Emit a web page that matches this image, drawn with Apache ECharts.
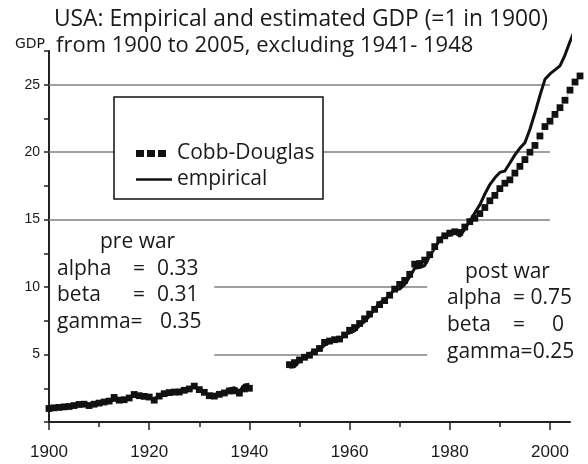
<!DOCTYPE html>
<html>
<head>
<meta charset="utf-8">
<script src="https://cdn.jsdelivr.net/npm/echarts@6/dist/echarts.min.js"></script>
<style>
  html, body { margin: 0; padding: 0; background: #ffffff; }
  #chart { width: 588px; height: 464px; }
</style>
</head>
<body>
<div id="chart"></div>
<script>
// US GDP index (1900 = 1), annual values; the war years 1941-1947 are left out.
const preWarStartYear = 1900;
const postWarStartYear = 1948;

const empiricalPreWar = [
  1.00, 1.05, 1.07, 1.10, 1.12, 1.20, 1.35, 1.30, 1.15, 1.30,
  1.38, 1.42, 1.50, 1.62, 1.60, 1.62, 1.80, 1.92, 1.92, 1.90,
  1.85, 1.72, 1.95, 2.15, 2.20, 2.25, 2.35, 2.40, 2.48, 2.62,
  2.40, 2.20, 1.98, 1.95, 2.05, 2.20, 2.45, 2.55, 2.28, 2.75,
  2.80
];
const empiricalPostWar = [
  4.05, 4.10, 4.50, 4.85, 5.05, 5.30, 5.35, 5.70, 5.90, 6.05,
  6.10, 6.45, 6.60, 6.75, 7.15, 7.45, 7.85, 8.35, 8.85, 9.05,
  9.45, 9.80, 9.85, 10.20, 10.75, 11.40, 11.45, 11.60, 12.30, 12.90,
  13.50, 13.90, 13.85, 14.10, 13.75, 14.30, 14.90, 15.50, 16.10, 16.90,
  17.60, 18.10, 18.50, 18.60, 19.20, 19.80, 20.30, 20.70, 21.70, 22.90,
  24.20, 25.40, 25.80, 26.10, 26.40, 27.20, 28.20, 29.10
];
const cobbDouglasPreWar = [
  1.00, 1.05, 1.08, 1.12, 1.15, 1.22, 1.30, 1.32, 1.22, 1.32,
  1.40, 1.48, 1.55, 1.82, 1.62, 1.65, 1.78, 2.04, 1.95, 1.90,
  1.85, 1.62, 1.92, 2.10, 2.18, 2.22, 2.22, 2.35, 2.45, 2.66,
  2.40, 2.20, 1.95, 1.92, 2.05, 2.15, 2.30, 2.31, 2.14, 2.45,
  2.50
];
const cobbDouglasPostWar = [
  4.25, 4.40, 4.60, 4.80, 4.95, 5.20, 5.45, 5.90, 6.00, 6.10,
  6.15, 6.45, 6.80, 7.00, 7.30, 7.65, 8.00, 8.35, 8.70, 9.00,
  9.40, 9.85, 10.20, 10.50, 10.95, 11.70, 11.75, 12.00, 12.40, 13.00,
  13.50, 13.80, 14.00, 14.10, 14.05, 14.45, 14.85, 15.10, 15.45, 15.90,
  16.40, 16.80, 17.30, 17.70, 17.95, 18.45, 18.95, 19.45, 20.00, 20.50,
  21.20, 21.90, 22.30, 22.80, 23.30, 23.85, 24.60, 25.20, 25.65
];

// Axis ticks and labels
const xLabelYears = [1900, 1920, 1940, 1960, 1980, 2000];
const xMinorYears = [1910, 1930, 1950, 1970, 1990];
const yLabelValues = [5, 10, 15, 20, 25];
const yTickValues = [0, 2.5, 5, 7.5, 10, 12.5, 15, 17.5, 20, 22.5, 25, 27.5];

// Horizontal reference lines: [value, fromYear, toYear]
const referenceLines = [
  [25, 1900, 2000],
  [20, 1900, 2000],
  [15, 1900, 2000],
  [10, 1933, 1975.5],
  [5, 1933, 1975.5]
];

const FONT = 'Open Sans';
const INK = '#1a1a1a';

function toPairs(startYear, values) {
  return values.map((v, i) => [startYear + i, v]);
}
function withWarGap(pre, post) {
  return toPairs(preWarStartYear, pre)
    .concat([[1944, '-']])
    .concat(toPairs(postWarStartYear, post));
}

const chart = echarts.init(document.getElementById('chart'), null, { renderer: 'canvas' });

function text(x, y, str, size) {
  return {
    type: 'text', x: x, y: y, z: 3,
    style: {
      text: str, fill: INK, font: size + 'px "' + FONT + '"',
      align: 'left', verticalAlign: 'middle'
    }
  };
}

// Parameter rows: label, "=", value placed in columns
function paramRows(x, yStart, step, rows, cols) {
  const out = [];
  rows.forEach((r, i) => {
    const y = yStart + i * step;
    out.push(text(x, y, r[0], 21));
    if (r[1]) out.push(text(cols[0], y, r[1], 21));
    if (r[2]) out.push(text(cols[1], y, r[2], 21));
  });
  return out;
}

const titleStyle = { fontFamily: FONT, fontSize: 22.8, fontWeight: 'normal', color: INK };
const subtitleStyle = { fontFamily: FONT, fontSize: 22, fontWeight: 'normal', color: INK };

const option = {
  animation: false,
  backgroundColor: '#ffffff',
  title: [
    { text: 'USA: Empirical and estimated GDP (=1 in 1900)', left: 54, top: 8, padding: 0, textStyle: titleStyle },
    { text: 'from 1900 to 2005, excluding 1941- 1948', left: 56, top: 35, padding: 0, textStyle: subtitleStyle }
  ],
  grid: { left: 49, right: 18, top: 51, bottom: 42, containLabel: false },
  xAxis: [
    {
      type: 'value', min: 1900, max: 2004, position: 'bottom',
      axisLine: { show: true, lineStyle: { color: '#222', width: 2 } },
      axisTick: { show: true, length: 8, customValues: xLabelYears, lineStyle: { color: '#222', width: 1.5 } },
      axisLabel: {
        customValues: xLabelYears, margin: 22, fontFamily: 'Liberation Sans',
        fontSize: 17, color: INK, formatter: v => String(v)
      },
      splitLine: { show: false }
    },
    {
      type: 'value', min: 1900, max: 2004, position: 'bottom', offset: 0,
      axisLine: { show: false },
      axisTick: { show: true, length: 5, customValues: xMinorYears, lineStyle: { color: '#222', width: 1.5 } },
      axisLabel: { show: false },
      splitLine: { show: false }
    }
  ],
  yAxis: {
    type: 'value', min: 0, max: 27.5,
    name: 'GDP', nameLocation: 'end', nameGap: 0,
    nameTextStyle: { fontFamily: 'DejaVu Sans', fontSize: 14, color: INK, align: 'right', verticalAlign: 'bottom', padding: [0, 4, 0, 0] },
    axisLine: { show: true, lineStyle: { color: '#222', width: 2 } },
    axisTick: { show: true, length: 5, customValues: yTickValues, lineStyle: { color: '#222', width: 1.5 } },
    axisLabel: {
      customValues: yLabelValues, margin: 9, fontFamily: 'Liberation Sans',
      fontSize: 14, color: INK
    },
    splitLine: { show: false }
  },
  legend: {
    orient: 'vertical', left: 131, top: 138,
    itemWidth: 36, itemHeight: 8, itemGap: 5,
    selectedMode: false,
    textStyle: { fontFamily: FONT, fontSize: 21, color: INK },
    itemStyle: { borderWidth: 0 },
    data: [
      { name: 'Cobb-Douglas', icon: 'path://M0,0h8v7h-8z M11,0h8v7h-8z M22,0h8v7h-8z M36,0' },
      { name: 'empirical', icon: 'path://M0,2.75h36v2.5h-36z M0,0 M0,8' }
    ]
  },
  graphic: {
    elements: [
      {
        type: 'rect', z: 3,
        shape: { x: 114, y: 97, width: 209, height: 102 },
        style: { fill: '#ffffff', stroke: '#111', lineWidth: 1.5 }
      },
      text(100, 242, 'pre war', 21)
    ].concat(
      paramRows(57, 269, 26.5, [
        ['alpha', '=', '0.33'],
        ['beta', '=', '0.31'],
        ['gamma=', '', '']
      ], [133, 157]),
      [text(160, 322, '0.35', 21)],
      [text(465, 272, 'post war', 21)],
      paramRows(447, 298, 26.8, [
        ['alpha', '= 0.75', ''],
        ['beta', '=', '0'],
        ['gamma=0.25', '', '']
      ], [513, 552])
    )
  },
  series: [
    {
      name: 'reference lines', type: 'line', data: [], z: 1, silent: true,
      markLine: {
        z: 1, silent: true, animation: false,
        symbol: ['none', 'none'],
        label: { show: false },
        emphasis: { disabled: true },
        lineStyle: { color: '#808080', width: 1.5, type: 'solid' },
        data: referenceLines.map(r => [{ coord: [r[1], r[0]] }, { coord: [r[2], r[0]] }])
      }
    },
    {
      name: 'empirical', type: 'line',
      data: withWarGap(empiricalPreWar, empiricalPostWar),
      symbol: 'none', showSymbol: false, connectNulls: false, clip: false, z: 3,
      lineStyle: { color: '#111', width: 3 },
      itemStyle: { color: '#111' }
    },
    {
      name: 'Cobb-Douglas', type: 'line',
      data: withWarGap(cobbDouglasPreWar, cobbDouglasPostWar),
      symbol: 'rect', symbolSize: 6.8, showSymbol: true, showAllSymbol: true,
      connectNulls: false, clip: false, z: 4,
      lineStyle: { color: '#9a9a9a', width: 1, type: 'dotted' },
      itemStyle: { color: '#111' }
    }
  ]
};

chart.setOption(option);
</script>
</body>
</html>
